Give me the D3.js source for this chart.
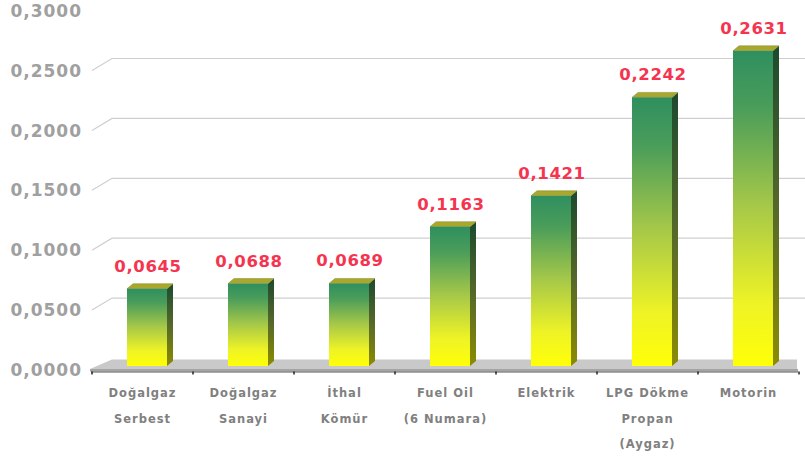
<!DOCTYPE html>
<html><head><meta charset="utf-8">
<script src="https://cdn.jsdelivr.net/npm/d3@7"></script>
<style>html,body{margin:0;padding:0;background:#fff;}svg{display:block;}</style>
</head><body>
<svg id="c" width="805" height="463"></svg>
<script>
const categories = [["Doğalgaz","Serbest"],["Doğalgaz","Sanayi"],["İthal","Kömür"],["Fuel Oil","(6 Numara)"],["Elektrik"],["LPG Dökme","Propan","(Aygaz)"],["Motorin"]];
const values = [0.0645, 0.0688, 0.0689, 0.1163, 0.1421, 0.2242, 0.2631];
const valueLabels = ["0,0645","0,0688","0,0689","0,1163","0,1421","0,2242","0,2631"];
const yTicks = [0, 0.05, 0.10, 0.15, 0.20, 0.25, 0.30];
const yTickLabels = ["0,0000","0,0500","0,1000","0,1500","0,2000","0,2500","0,3000"];

const svg = d3.select("#c");
const x = d3.scaleBand().domain(d3.range(categories.length)).range([92, 799]).padding(0);
const y = d3.scaleLinear().domain([0, 0.3]).range([370, 10.6]);
const wallDx = 20, wallDy = -12;
const barDy = -4, depthX = 6, depthY = -5, barW = 40;

const defs = svg.append("defs");
const gF = defs.append("linearGradient").attr("id","gF").attr("x1",0).attr("y1",0).attr("x2",0).attr("y2",1);
[[0,"#2f8f5f"],[0.18,"#4a9d5a"],[0.5,"#a8c948"],[0.8,"#eef326"],[1,"#ffff08"]].forEach(s=>gF.append("stop").attr("offset",s[0]).attr("stop-color",s[1]));
const gS = defs.append("linearGradient").attr("id","gS").attr("x1",0).attr("y1",0).attr("x2",0).attr("y2",1);
[[0,"#1c4a2e"],[0.5,"#55682a"],[1,"#8c8c00"]].forEach(s=>gS.append("stop").attr("offset",s[0]).attr("stop-color",s[1]));

// gridlines (back wall) with slanted connectors
const grid = svg.append("g");
yTicks.forEach((t,i)=>{
  if (t === 0 || t >= 0.3) return;
  const yy = y(t);
  grid.append("path")
    .attr("d", `M92,${yy}L${92+wallDx},${yy+wallDy}L805,${yy+wallDy}`)
    .attr("fill","none").attr("stroke","#cfcfcf").attr("stroke-width",1.2);
});

// floor
const y0 = y(0);
svg.append("path")
  .attr("d", `M90,${y0-1}L${90+wallDx+2},${y0+wallDy+1.5}L797,${y0+wallDy+1.5}L797,${y0-1}Z`)
  .attr("fill","#c9c9c9");
svg.append("rect").attr("x",90).attr("y",y0-1).attr("width",708).attr("height",2.5).attr("fill","#a4a4a4");
svg.append("line").attr("x1",91).attr("x2",798).attr("y1",y0+2).attr("y2",y0+2).attr("stroke","#555").attr("stroke-width",1);
// ticks at band boundaries
d3.range(categories.length+1).forEach(i=>{
  const xx = 92 + x.bandwidth()*i;
  svg.append("line").attr("x1",xx).attr("x2",xx).attr("y1",y0+1.5).attr("y2",y0+4.5).attr("stroke","#222").attr("stroke-width",1.5);
});

// y labels
svg.append("g").selectAll("text").data(yTicks).join("text")
  .attr("x", 82).attr("y", d=>y(d)).attr("dy","0.36em")
  .attr("text-anchor","end")
  .attr("font-family","DejaVu Sans").attr("font-weight","bold").attr("font-size",17)
  .attr("letter-spacing","1px")
  .attr("fill","#a0a0a0")
  .text((d,i)=>yTickLabels[i]);

// bars
const bars = svg.append("g");
values.forEach((v,i)=>{
  const x0 = x(i) + 35;
  const top = y(v) + barDy;
  const base = y(0) + barDy;
  bars.append("path")
    .attr("d", `M${x0+barW},${top}L${x0+barW+depthX},${top+depthY}L${x0+barW+depthX},${base+depthY}L${x0+barW},${base}Z`)
    .attr("fill","url(#gS)");
  bars.append("path")
    .attr("d", `M${x0},${top}L${x0+depthX},${top+depthY}L${x0+barW+depthX},${top+depthY}L${x0+barW},${top}Z`)
    .attr("fill","#a9a82c").attr("stroke","#7f8a26").attr("stroke-width",0.5);
  bars.append("rect").attr("x",x0).attr("y",top).attr("width",barW).attr("height",base-top)
    .attr("fill","url(#gF)");
  svg.append("text")
    .attr("x", x0 + barW/2 + 1).attr("y", top - 17)
    .attr("text-anchor","middle")
    .attr("font-family","DejaVu Sans").attr("font-weight","bold").attr("font-size",16.5)
    .attr("letter-spacing","0.6px")
    .attr("fill","#f5344f")
    .text(valueLabels[i]);
});

// category labels
categories.forEach((lines,i)=>{
  const cx = x(i) + x.bandwidth()/2;
  lines.forEach((ln,j)=>{
    svg.append("text").attr("x",cx).attr("y",397 + j*25.5)
      .attr("text-anchor","middle")
      .attr("font-family","DejaVu Sans").attr("font-weight","bold").attr("font-size",11.5)
      .attr("letter-spacing","1px")
      .attr("fill","#808080")
      .text(ln);
  });
});
</script>
</body></html>
